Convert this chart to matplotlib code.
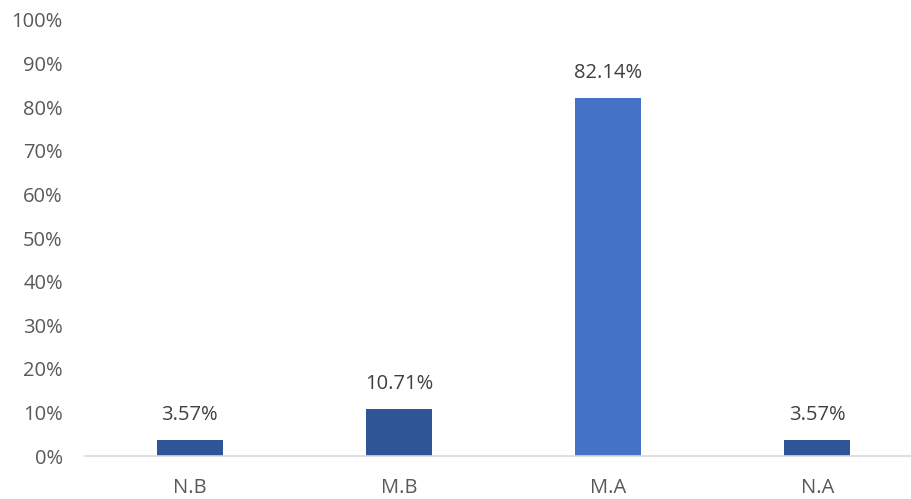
import matplotlib.pyplot as plt
from matplotlib.ticker import PercentFormatter

categories = ['N.B', 'M.B', 'M.A', 'N.A']
values = [3.57, 10.71, 82.14, 3.57]
bar_colors = ['#2F5597', '#2F5597', '#4472C4', '#2F5597']

plt.rcParams['font.family'] = ['Open Sans', 'DejaVu Sans']

fig = plt.figure(figsize=(9.12, 4.99), dpi=100)
ax = fig.add_axes([85 / 912, 1 - 456 / 499, (922 - 85) / 912, (456 - 20) / 499])

x = range(len(categories))
bars = ax.bar(x, values, width=0.315, color=bar_colors)

for b, v in zip(bars, values):
    ax.annotate(f'{v:.2f}%', (b.get_x() + b.get_width() / 2, v),
                xytext=(0, 11), textcoords='offset points',
                ha='center', va='bottom', fontsize=14.5, color='#404040')

ax.set_xlim(-0.5, 3.5)
ax.set_ylim(0, 100)
ax.set_yticks(range(0, 101, 10))
ax.yaxis.set_major_formatter(PercentFormatter(decimals=0))
ax.set_xticks(list(x))
ax.set_xticklabels(categories)

for s in ['top', 'right', 'left']:
    ax.spines[s].set_visible(False)
ax.spines['bottom'].set_color('#D9D9D9')
ax.spines['bottom'].set_linewidth(1.2)
ax.tick_params(axis='both', length=0, labelsize=14.5, labelcolor='#595959')
ax.tick_params(axis='y', pad=16)
ax.tick_params(axis='x', pad=16)

fig.savefig('out.png', dpi=100)
